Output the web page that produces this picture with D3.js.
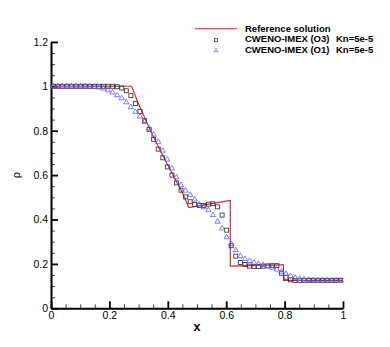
<!DOCTYPE html>
<html>
<head>
<meta charset="utf-8">
<script src="https://cdn.jsdelivr.net/npm/d3@7"></script>
<style>
  body { margin: 0; background: #fff; }
  text { font-family: "Liberation Sans", Arial, sans-serif; }
</style>
</head>
<body>
<script>
// cell-centred mesh, 64 cells on [0,1]
let nCells = 64;

// reference solution (polyline)
let refX = [0, 0.276, 0.30, 0.32, 0.35, 0.385, 0.42, 0.45, 0.472, 0.614, 0.614, 0.796, 0.796, 1.0];
let refRho = [1.0, 1.0, 0.92, 0.861, 0.775, 0.683, 0.595, 0.52, 0.454, 0.486, 0.19, 0.196, 0.126, 0.126];

// CWENO-IMEX (O3)
let o3Rho = [
    1.0, 1.0, 1.0, 1.0, 1.0, 1.0, 1.0, 1.0, 1.0, 1.0,
    1.0, 1.0, 1.0, 1.0, 0.998, 0.992, 0.98, 0.958, 0.922, 0.887,
    0.845, 0.806, 0.761, 0.717, 0.678, 0.637, 0.600, 0.565, 0.532, 0.502,
    0.480, 0.468, 0.463, 0.463, 0.469, 0.471, 0.457, 0.420, 0.352, 0.282,
    0.235, 0.206, 0.197, 0.190, 0.188, 0.188, 0.190, 0.191, 0.192, 0.192,
    0.158, 0.140, 0.128, 0.126, 0.126, 0.126, 0.126, 0.126, 0.126, 0.126,
    0.126, 0.126, 0.126, 0.126
];

// CWENO-IMEX (O1)
let o1Rho = [
    1.0, 1.0, 1.0, 1.0, 1.0, 1.0, 1.0, 1.0, 1.0, 0.998,
    0.995, 0.990, 0.982, 0.972, 0.960, 0.946, 0.928, 0.906, 0.885, 0.864,
    0.840, 0.810, 0.782, 0.750, 0.710, 0.670, 0.630, 0.590, 0.555, 0.530,
    0.510, 0.490, 0.468, 0.455, 0.442, 0.420, 0.390, 0.360, 0.320, 0.290,
    0.262, 0.235, 0.222, 0.213, 0.205, 0.200, 0.195, 0.190, 0.183, 0.175,
    0.165, 0.155, 0.145, 0.138, 0.133, 0.130, 0.128, 0.127, 0.126, 0.126,
    0.126, 0.126, 0.126, 0.126
];

let xTicks = [0, 0.2, 0.4, 0.6, 0.8, 1];
let xTickLabels = ["0", "0.2", "0.4", "0.6", "0.8", "1"];
let yTicks = [0, 0.2, 0.4, 0.6, 0.8, 1, 1.2];
let yTickLabels = ["0", "0.2", "0.4", "0.6", "0.8", "1", "1.2"];

let legendNames = ["Reference solution", "CWENO-IMEX (O3)", "CWENO-IMEX (O1)"];
let legendKn = ["", "Kn=5e-5", "Kn=5e-5"];

run();

function run() {
    let width = 390;
    let height = 347;

    let svg = d3.select("body")
        .append("svg")
        .attr("width", width)
        .attr("height", height);

    let x = d3.scaleLinear().domain([0, 1]).range([51, 343]);
    let y = d3.scaleLinear().domain([0, 1.2]).range([308.3, 41.9]);

    let cellX = d3.range(nCells).map(function (i) { return (i + 0.5) / nCells; });

    // minor ticks
    let xMinor = d3.range(0, 1.0001, 0.05).filter(function (v) { return Math.abs(v * 5 - Math.round(v * 5)) > 1e-6; });
    let yMinor = d3.range(0, 1.2001, 0.05).filter(function (v) { return Math.abs(v * 5 - Math.round(v * 5)) > 1e-6; });

    let gxm = svg.append("g")
        .attr("transform", "translate(0,308.3)")
        .call(d3.axisBottom(x).tickValues(xMinor).tickSize(-4).tickSizeOuter(0).tickFormat(""));
    gxm.select(".domain").remove();
    gxm.selectAll("line").attr("stroke", "#444").attr("stroke-width", 1);

    let gym = svg.append("g")
        .attr("transform", "translate(51,0)")
        .call(d3.axisLeft(y).tickValues(yMinor).tickSize(-4).tickSizeOuter(0).tickFormat(""));
    gym.select(".domain").remove();
    gym.selectAll("line").attr("stroke", "#444").attr("stroke-width", 1);

    // major axes
    let gx = svg.append("g")
        .attr("transform", "translate(0,308.3)")
        .call(d3.axisBottom(x)
            .tickValues(xTicks)
            .tickSize(-7)
            .tickSizeOuter(0)
            .tickPadding(3)
            .tickFormat(function (d, i) { return xTickLabels[i]; }));
    gx.select(".domain").attr("stroke-width", 2);
    gx.selectAll("line").attr("stroke-width", 1.8);
    gx.selectAll("text").attr("font-size", 10.5).attr("fill", "#000");

    let gy = svg.append("g")
        .attr("transform", "translate(51,0)")
        .call(d3.axisLeft(y)
            .tickValues(yTicks)
            .tickSize(-7)
            .tickSizeOuter(0)
            .tickPadding(3)
            .tickFormat(function (d, i) { return yTickLabels[i]; }));
    gy.select(".domain").attr("stroke-width", 2);
    gy.selectAll("line").attr("stroke-width", 1.8);
    gy.selectAll("text").attr("font-size", 10.5).attr("fill", "#000");

    // axis titles
    svg.append("text")
        .attr("x", 197)
        .attr("y", 331)
        .attr("text-anchor", "middle")
        .attr("font-size", 12.5)
        .attr("font-weight", "bold")
        .text("x");

    svg.append("text")
        .attr("transform", "translate(20,175) rotate(-90)")
        .attr("text-anchor", "middle")
        .attr("font-size", 11)
        .text("ρ");

    // reference solution
    let line = d3.line()
        .x(function (d, i) { return x(refX[i]); })
        .y(function (d) { return y(d); });

    svg.append("path")
        .datum(refRho)
        .attr("fill", "none")
        .attr("stroke", "#e31a1c")
        .attr("stroke-width", 1.1)
        .attr("d", line);

    // O3 squares
    svg.append("g").selectAll("rect")
        .data(o3Rho)
        .enter()
        .append("rect")
        .attr("x", function (d, i) { return x(cellX[i]) - 2; })
        .attr("y", function (d) { return y(d) - 2; })
        .attr("width", 4)
        .attr("height", 4)
        .attr("fill", "none")
        .attr("stroke", "#333")
        .attr("stroke-width", 0.85);

    // O1 triangles
    let tri = d3.symbol().type(d3.symbolTriangle).size(12);
    svg.append("g").selectAll("path")
        .data(o1Rho)
        .enter()
        .append("path")
        .attr("transform", function (d, i) {
            return "translate(" + x(cellX[i]) + "," + y(d) + ")";
        })
        .attr("d", tri)
        .attr("fill", "none")
        .attr("stroke", "#5a5aff")
        .attr("stroke-width", 0.8);

    // legend
    let leg = svg.append("g");
    let base = [31.6, 42.4, 53.2];

    leg.append("line")
        .attr("x1", 195).attr("x2", 237)
        .attr("y1", 28.8).attr("y2", 28.8)
        .attr("stroke", "#e31a1c")
        .attr("stroke-width", 1.1);

    leg.append("rect")
        .attr("x", 214.5).attr("y", 38.7)
        .attr("width", 3).attr("height", 3)
        .attr("fill", "none")
        .attr("stroke", "#333")
        .attr("stroke-width", 0.8);

    leg.append("path")
        .attr("transform", "translate(216,50.5)")
        .attr("d", d3.symbol().type(d3.symbolTriangle).size(6))
        .attr("fill", "none")
        .attr("stroke", "#5a5aff")
        .attr("stroke-width", 0.7);

    leg.selectAll("text.name")
        .data(legendNames)
        .enter()
        .append("text")
        .attr("class", "name")
        .attr("x", 245)
        .attr("y", function (d, i) { return base[i]; })
        .attr("font-size", 9.5)
        .attr("font-weight", "bold")
        .text(function (d) { return d; });

    leg.selectAll("text.kn")
        .data(legendKn)
        .enter()
        .append("text")
        .attr("class", "kn")
        .attr("x", 336)
        .attr("y", function (d, i) { return base[i]; })
        .attr("font-size", 9.5)
        .attr("font-weight", "bold")
        .text(function (d) { return d; });
}
</script>
</body>
</html>
